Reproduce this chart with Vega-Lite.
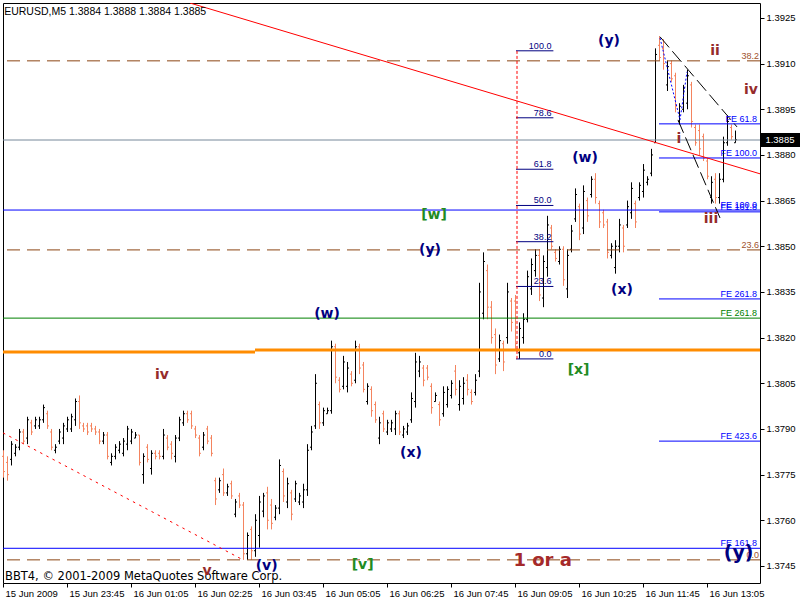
{
 "$schema": "https://vega.github.io/schema/vega-lite/v6.json",
 "width": 757, "height": 580,
 "autosize": {"type": "none"},
 "padding": {"left": 3, "top": 3, "right": 40, "bottom": 17},
 "background": "white",
 "config": {"view": {"stroke": "black", "strokeWidth": 1}},
 "datasets": {
  "bars": [
{"x":0,"o":1.3781,"h":1.3783,"l":1.3774,"c":1.3776},
{"x":1,"o":1.3779,"h":1.3781,"l":1.3773,"c":1.3775},
{"x":2,"o":1.3780,"h":1.3786,"l":1.3778,"c":1.3785},
{"x":3,"o":1.3782,"h":1.3785,"l":1.3781,"c":1.3784},
{"x":4,"o":1.3784,"h":1.3790,"l":1.3783,"c":1.3789},
{"x":5,"o":1.3789,"h":1.3790,"l":1.3785,"c":1.3786},
{"x":6,"o":1.3787,"h":1.3794,"l":1.3785,"c":1.3793},
{"x":7,"o":1.3792,"h":1.3793,"l":1.3788,"c":1.3789},
{"x":8,"o":1.3791,"h":1.3794,"l":1.3790,"c":1.3793},
{"x":9,"o":1.3791,"h":1.3794,"l":1.3790,"c":1.3793},
{"x":10,"o":1.3793,"h":1.3798,"l":1.3792,"c":1.3797},
{"x":11,"o":1.3795,"h":1.3796,"l":1.3790,"c":1.3791},
{"x":12,"o":1.3789,"h":1.3790,"l":1.3783,"c":1.3784},
{"x":13,"o":1.3783,"h":1.3785,"l":1.3782,"c":1.3784},
{"x":14,"o":1.3786,"h":1.3790,"l":1.3785,"c":1.3789},
{"x":15,"o":1.3787,"h":1.3792,"l":1.3785,"c":1.3791},
{"x":16,"o":1.3790,"h":1.3794,"l":1.3789,"c":1.3793},
{"x":17,"o":1.3790,"h":1.3795,"l":1.3789,"c":1.3794},
{"x":18,"o":1.3793,"h":1.3800,"l":1.3791,"c":1.3799},
{"x":19,"o":1.3799,"h":1.3801,"l":1.3790,"c":1.3792},
{"x":20,"o":1.3791,"h":1.3792,"l":1.3789,"c":1.3790},
{"x":21,"o":1.3791,"h":1.3792,"l":1.3788,"c":1.3789},
{"x":22,"o":1.3791,"h":1.3792,"l":1.3789,"c":1.3790},
{"x":23,"o":1.3790,"h":1.3791,"l":1.3788,"c":1.3789},
{"x":24,"o":1.3789,"h":1.3790,"l":1.3785,"c":1.3786},
{"x":25,"o":1.3786,"h":1.3789,"l":1.3785,"c":1.3788},
{"x":26,"o":1.3788,"h":1.3789,"l":1.3780,"c":1.3781},
{"x":27,"o":1.3779,"h":1.3782,"l":1.3778,"c":1.3781},
{"x":28,"o":1.3781,"h":1.3785,"l":1.3780,"c":1.3784},
{"x":29,"o":1.3783,"h":1.3786,"l":1.3782,"c":1.3785},
{"x":30,"o":1.3782,"h":1.3787,"l":1.3781,"c":1.3786},
{"x":31,"o":1.3785,"h":1.3791,"l":1.3783,"c":1.3790},
{"x":32,"o":1.3786,"h":1.3790,"l":1.3785,"c":1.3789},
{"x":33,"o":1.3787,"h":1.3789,"l":1.3787,"c":1.3788},
{"x":34,"o":1.3788,"h":1.3788,"l":1.3778,"c":1.3779},
{"x":35,"o":1.3775,"h":1.3782,"l":1.3772,"c":1.3781},
{"x":36,"o":1.3784,"h":1.3785,"l":1.3779,"c":1.3780},
{"x":37,"o":1.3777,"h":1.3783,"l":1.3775,"c":1.3782},
{"x":38,"o":1.3782,"h":1.3783,"l":1.3780,"c":1.3781},
{"x":39,"o":1.3782,"h":1.3783,"l":1.3780,"c":1.3781},
{"x":40,"o":1.3781,"h":1.3790,"l":1.3780,"c":1.3788},
{"x":41,"o":1.3787,"h":1.3788,"l":1.3783,"c":1.3784},
{"x":42,"o":1.3785,"h":1.3786,"l":1.3780,"c":1.3782},
{"x":43,"o":1.3781,"h":1.3788,"l":1.3779,"c":1.3787},
{"x":44,"o":1.3787,"h":1.3794,"l":1.3786,"c":1.3793},
{"x":45,"o":1.3792,"h":1.3796,"l":1.3791,"c":1.3795},
{"x":46,"o":1.3795,"h":1.3796,"l":1.3792,"c":1.3793},
{"x":47,"o":1.3795,"h":1.3796,"l":1.3790,"c":1.3791},
{"x":48,"o":1.3790,"h":1.3791,"l":1.3787,"c":1.3788},
{"x":49,"o":1.3787,"h":1.3788,"l":1.3781,"c":1.3782},
{"x":50,"o":1.3784,"h":1.3789,"l":1.3783,"c":1.3788},
{"x":51,"o":1.3790,"h":1.3791,"l":1.3785,"c":1.3786},
{"x":52,"o":1.3787,"h":1.3788,"l":1.3781,"c":1.3782},
{"x":53,"o":1.3773,"h":1.3774,"l":1.3765,"c":1.3767},
{"x":54,"o":1.3770,"h":1.3774,"l":1.3769,"c":1.3773},
{"x":55,"o":1.3775,"h":1.3777,"l":1.3768,"c":1.3769},
{"x":56,"o":1.3769,"h":1.3772,"l":1.3768,"c":1.3771},
{"x":57,"o":1.3772,"h":1.3773,"l":1.3767,"c":1.3768},
{"x":58,"o":1.3762,"h":1.3767,"l":1.3761,"c":1.3766},
{"x":59,"o":1.3768,"h":1.3769,"l":1.3764,"c":1.3765},
{"x":60,"o":1.3765,"h":1.3766,"l":1.3747,"c":1.3749},
{"x":61,"o":1.3749,"h":1.3756,"l":1.3747,"c":1.3755},
{"x":62,"o":1.3757,"h":1.3758,"l":1.3747,"c":1.3750},
{"x":63,"o":1.3750,"h":1.3762,"l":1.3748,"c":1.3760},
{"x":64,"o":1.3755,"h":1.3768,"l":1.3751,"c":1.3766},
{"x":65,"o":1.3763,"h":1.3769,"l":1.3761,"c":1.3768},
{"x":66,"o":1.3769,"h":1.3771,"l":1.3757,"c":1.3760},
{"x":67,"o":1.3765,"h":1.3767,"l":1.3757,"c":1.3759},
{"x":68,"o":1.3761,"h":1.3765,"l":1.3760,"c":1.3764},
{"x":69,"o":1.3764,"h":1.3780,"l":1.3762,"c":1.3778},
{"x":70,"o":1.3776,"h":1.3777,"l":1.3766,"c":1.3768},
{"x":71,"o":1.3766,"h":1.3774,"l":1.3764,"c":1.3772},
{"x":72,"o":1.3769,"h":1.3770,"l":1.3760,"c":1.3762},
{"x":73,"o":1.3767,"h":1.3773,"l":1.3766,"c":1.3772},
{"x":74,"o":1.3766,"h":1.3769,"l":1.3765,"c":1.3768},
{"x":75,"o":1.3766,"h":1.3772,"l":1.3764,"c":1.3770},
{"x":76,"o":1.3770,"h":1.3785,"l":1.3768,"c":1.3783},
{"x":77,"o":1.3784,"h":1.3791,"l":1.3783,"c":1.3789},
{"x":78,"o":1.3791,"h":1.3808,"l":1.3790,"c":1.3805},
{"x":79,"o":1.3798,"h":1.3799,"l":1.3790,"c":1.3792},
{"x":80,"o":1.3792,"h":1.3797,"l":1.3791,"c":1.3796},
{"x":81,"o":1.3795,"h":1.3797,"l":1.3795,"c":1.3796},
{"x":82,"o":1.3796,"h":1.3819,"l":1.3795,"c":1.3817},
{"x":83,"o":1.3817,"h":1.3818,"l":1.3805,"c":1.3807},
{"x":84,"o":1.3806,"h":1.3807,"l":1.3802,"c":1.3803},
{"x":85,"o":1.3804,"h":1.3814,"l":1.3803,"c":1.3812},
{"x":86,"o":1.3804,"h":1.3812,"l":1.3802,"c":1.3810},
{"x":87,"o":1.3808,"h":1.3809,"l":1.3804,"c":1.3805},
{"x":88,"o":1.3806,"h":1.3819,"l":1.3805,"c":1.3817},
{"x":89,"o":1.3817,"h":1.3818,"l":1.3808,"c":1.3810},
{"x":90,"o":1.3811,"h":1.3812,"l":1.3802,"c":1.3803},
{"x":91,"o":1.3799,"h":1.3805,"l":1.3798,"c":1.3804},
{"x":92,"o":1.3803,"h":1.3804,"l":1.3794,"c":1.3796},
{"x":93,"o":1.3798,"h":1.3799,"l":1.3792,"c":1.3793},
{"x":94,"o":1.3787,"h":1.3794,"l":1.3785,"c":1.3792},
{"x":95,"o":1.3795,"h":1.3796,"l":1.3789,"c":1.3790},
{"x":96,"o":1.3789,"h":1.3793,"l":1.3788,"c":1.3792},
{"x":97,"o":1.3790,"h":1.3793,"l":1.3789,"c":1.3792},
{"x":98,"o":1.3790,"h":1.3796,"l":1.3788,"c":1.3795},
{"x":99,"o":1.3795,"h":1.3796,"l":1.3788,"c":1.3789},
{"x":100,"o":1.3788,"h":1.3791,"l":1.3787,"c":1.3790},
{"x":101,"o":1.3789,"h":1.3792,"l":1.3788,"c":1.3791},
{"x":102,"o":1.3793,"h":1.3802,"l":1.3792,"c":1.3800},
{"x":103,"o":1.3799,"h":1.3815,"l":1.3797,"c":1.3812},
{"x":104,"o":1.3809,"h":1.3814,"l":1.3807,"c":1.3812},
{"x":105,"o":1.3810,"h":1.3811,"l":1.3804,"c":1.3806},
{"x":106,"o":1.3810,"h":1.3811,"l":1.3806,"c":1.3807},
{"x":107,"o":1.3804,"h":1.3805,"l":1.3795,"c":1.3797},
{"x":108,"o":1.3799,"h":1.3802,"l":1.3799,"c":1.3801},
{"x":109,"o":1.3798,"h":1.3799,"l":1.3791,"c":1.3793},
{"x":110,"o":1.3795,"h":1.3804,"l":1.3794,"c":1.3802},
{"x":111,"o":1.3798,"h":1.3804,"l":1.3797,"c":1.3803},
{"x":112,"o":1.3801,"h":1.3806,"l":1.3800,"c":1.3805},
{"x":113,"o":1.3809,"h":1.3811,"l":1.3801,"c":1.3803},
{"x":114,"o":1.3798,"h":1.3806,"l":1.3796,"c":1.3804},
{"x":115,"o":1.3800,"h":1.3807,"l":1.3798,"c":1.3805},
{"x":116,"o":1.3806,"h":1.3808,"l":1.3801,"c":1.3803},
{"x":117,"o":1.3802,"h":1.3803,"l":1.3798,"c":1.3799},
{"x":118,"o":1.3802,"h":1.3808,"l":1.3801,"c":1.3806},
{"x":119,"o":1.3809,"h":1.3838,"l":1.3807,"c":1.3835},
{"x":120,"o":1.3828,"h":1.3848,"l":1.3826,"c":1.3845},
{"x":121,"o":1.3842,"h":1.3844,"l":1.3826,"c":1.3830},
{"x":122,"o":1.3830,"h":1.3832,"l":1.3818,"c":1.3820},
{"x":123,"o":1.3821,"h":1.3823,"l":1.3808,"c":1.3811},
{"x":124,"o":1.3813,"h":1.3821,"l":1.3812,"c":1.3819},
{"x":125,"o":1.3818,"h":1.3819,"l":1.3809,"c":1.3812},
{"x":126,"o":1.3820,"h":1.3838,"l":1.3818,"c":1.3835},
{"x":127,"o":1.3832,"h":1.3833,"l":1.3822,"c":1.3825},
{"x":128,"o":1.3832,"h":1.3834,"l":1.3816,"c":1.3818},
{"x":129,"o":1.3815,"h":1.3825,"l":1.3813,"c":1.3823},
{"x":130,"o":1.3820,"h":1.3828,"l":1.3818,"c":1.3826},
{"x":131,"o":1.3826,"h":1.3842,"l":1.3825,"c":1.3840},
{"x":132,"o":1.3836,"h":1.3846,"l":1.3834,"c":1.3844},
{"x":133,"o":1.3842,"h":1.3849,"l":1.3840,"c":1.3847},
{"x":134,"o":1.3847,"h":1.3849,"l":1.3832,"c":1.3834},
{"x":135,"o":1.3833,"h":1.3847,"l":1.3830,"c":1.3845},
{"x":136,"o":1.3843,"h":1.3860,"l":1.3840,"c":1.3857},
{"x":137,"o":1.3856,"h":1.3857,"l":1.3849,"c":1.3850},
{"x":138,"o":1.3848,"h":1.3849,"l":1.3845,"c":1.3846},
{"x":139,"o":1.3845,"h":1.3850,"l":1.3844,"c":1.3849},
{"x":140,"o":1.3849,"h":1.3850,"l":1.3837,"c":1.3839},
{"x":141,"o":1.3836,"h":1.3849,"l":1.3833,"c":1.3847},
{"x":142,"o":1.3849,"h":1.3857,"l":1.3848,"c":1.3855},
{"x":143,"o":1.3859,"h":1.3869,"l":1.3858,"c":1.3867},
{"x":144,"o":1.3863,"h":1.3864,"l":1.3852,"c":1.3854},
{"x":145,"o":1.3856,"h":1.3870,"l":1.3854,"c":1.3868},
{"x":146,"o":1.3865,"h":1.3866,"l":1.3858,"c":1.3860},
{"x":147,"o":1.3867,"h":1.3873,"l":1.3866,"c":1.3872},
{"x":148,"o":1.3872,"h":1.3874,"l":1.3864,"c":1.3866},
{"x":149,"o":1.3864,"h":1.3865,"l":1.3856,"c":1.3858},
{"x":150,"o":1.3861,"h":1.3862,"l":1.3856,"c":1.3857},
{"x":151,"o":1.3858,"h":1.3859,"l":1.3846,"c":1.3848},
{"x":152,"o":1.3847,"h":1.3851,"l":1.3846,"c":1.3850},
{"x":153,"o":1.3843,"h":1.3852,"l":1.3841,"c":1.3850},
{"x":154,"o":1.3850,"h":1.3859,"l":1.3848,"c":1.3857},
{"x":155,"o":1.3856,"h":1.3857,"l":1.3848,"c":1.3850},
{"x":156,"o":1.3857,"h":1.3865,"l":1.3856,"c":1.3863},
{"x":157,"o":1.3861,"h":1.3871,"l":1.3859,"c":1.3869},
{"x":158,"o":1.3864,"h":1.3865,"l":1.3856,"c":1.3858},
{"x":159,"o":1.3866,"h":1.3871,"l":1.3865,"c":1.3870},
{"x":160,"o":1.3868,"h":1.3877,"l":1.3866,"c":1.3875},
{"x":161,"o":1.3871,"h":1.3873,"l":1.3870,"c":1.3872},
{"x":162,"o":1.3874,"h":1.3882,"l":1.3873,"c":1.3880},
{"x":163,"o":1.3884,"h":1.3915,"l":1.3884,"c":1.3913},
{"x":164,"o":1.3916,"h":1.3919,"l":1.3911,"c":1.3912},
{"x":165,"o":1.3915,"h":1.3918,"l":1.3908,"c":1.3910},
{"x":166,"o":1.3903,"h":1.3911,"l":1.3901,"c":1.3909},
{"x":167,"o":1.3910,"h":1.3911,"l":1.3904,"c":1.3905},
{"x":168,"o":1.3906,"h":1.3907,"l":1.3894,"c":1.3896},
{"x":169,"o":1.3891,"h":1.3897,"l":1.3890,"c":1.3896},
{"x":170,"o":1.3895,"h":1.3903,"l":1.3894,"c":1.3902},
{"x":171,"o":1.3897,"h":1.3908,"l":1.3895,"c":1.3906},
{"x":172,"o":1.3903,"h":1.3904,"l":1.3889,"c":1.3891},
{"x":173,"o":1.3889,"h":1.3890,"l":1.3883,"c":1.3884},
{"x":174,"o":1.3888,"h":1.3890,"l":1.3880,"c":1.3882},
{"x":175,"o":1.3886,"h":1.3887,"l":1.3878,"c":1.3879},
{"x":176,"o":1.3878,"h":1.3879,"l":1.3872,"c":1.3873},
{"x":177,"o":1.3866,"h":1.3873,"l":1.3864,"c":1.3871},
{"x":178,"o":1.3872,"h":1.3874,"l":1.3864,"c":1.3866},
{"x":179,"o":1.3866,"h":1.3874,"l":1.3864,"c":1.3872},
{"x":180,"o":1.3872,"h":1.3886,"l":1.3871,"c":1.3884},
{"x":181,"o":1.3884,"h":1.3893,"l":1.3883,"c":1.3891},
{"x":182,"o":1.3889,"h":1.3890,"l":1.3885,"c":1.3886},
{"x":183,"o":1.3884,"h":1.3888,"l":1.3884,"c":1.3885}
  ],
  "grayLine": [{"p": 1.38849}],
  "brownLv": [{"p": 1.39109, "t": "38.2"}, {"p": 1.38488, "t": "23.6"}, {"p": 1.3747, "t": "0.0"}],
  "blueFull": [{"p": 1.38619, "t": "FE 100.0"}, {"p": 1.37508, "t": "FE 161.8"}],
  "greenFull": [{"p": 1.38264, "t": "FE 261.8"}],
  "blueShort": [
   {"x": 164, "x2": 189.25, "p": 1.38902, "t": "FE 61.8"},
   {"x": 164, "x2": 189.25, "p": 1.3879, "t": "FE 100.0"},
   {"x": 164, "x2": 189.25, "p": 1.38613, "t": "FE 161.8"},
   {"x": 164, "x2": 189.25, "p": 1.38327, "t": "FE 261.8"},
   {"x": 164, "x2": 189.25, "p": 1.3786, "t": "FE 423.6"}
  ],
  "orange": [{"x": 0, "x2": 63, "p": 1.38153}, {"x": 63, "x2": 189.25, "p": 1.38159}],
  "fibo": [
   {"x": 128.25, "x2": 137.6, "p": 1.39142, "t": "100.0"},
   {"x": 128.25, "x2": 137.6, "p": 1.38922, "t": "78.6"},
   {"x": 128.25, "x2": 137.6, "p": 1.38753, "t": "61.8"},
   {"x": 128.25, "x2": 137.6, "p": 1.38634, "t": "50.0"},
   {"x": 128.25, "x2": 137.6, "p": 1.38515, "t": "38.2"},
   {"x": 128.25, "x2": 137.6, "p": 1.38368, "t": "23.6"},
   {"x": 128.25, "x2": 137.6, "p": 1.3813, "t": "0.0"}
  ],
  "fiboVert": [{"x": 128.5, "p": 1.3813, "p2": 1.39142}],
  "redTrend": [{"x": 46.75, "p": 1.39299}, {"x": 189.25, "p": 1.38738}],
  "redDot": [{"x": 0, "p": 1.37887}, {"x": 60, "p": 1.3747}],
  "wedge": [
   {"id": "A", "x": 164.25, "p": 1.39188}, {"id": "A", "x": 183.5, "p": 1.38892},
   {"id": "B", "x": 168.75, "p": 1.38915}, {"id": "B", "x": 179.25, "p": 1.38593}
  ],
  "zigzag": [{"x": 164.25, "p": 1.39184}, {"x": 169.25, "p": 1.38915}, {"x": 171, "p": 1.39073}],
  "navyLbl": [
   {"x": 151.5, "p": 1.39174, "t": "(y)"},
   {"x": 145.5, "p": 1.3879, "t": "(w)"},
   {"x": 106.75, "p": 1.38488, "t": "(y)"},
   {"x": 154.75, "p": 1.38357, "t": "(x)"},
   {"x": 81, "p": 1.38278, "t": "(w)"},
   {"x": 102, "p": 1.37821, "t": "(x)"},
   {"x": 65.9, "p": 1.3745, "t": "(v)"}
  ],
  "redLbl": [
   {"x": 178, "p": 1.39142, "t": "ii"},
   {"x": 187, "p": 1.39013, "t": "iv"},
   {"x": 169, "p": 1.38853, "t": "i"},
   {"x": 177, "p": 1.38591, "t": "iii"},
   {"x": 39.75, "p": 1.38077, "t": "iv"},
   {"x": 51, "p": 1.37434, "t": "v"}
  ],
  "greenLbl": [
   {"x": 107.75, "p": 1.38603, "t": "[w]"},
   {"x": 143.9, "p": 1.38092, "t": "[x]"},
   {"x": 89.9, "p": 1.37453, "t": "[v]"}
  ],
  "bigRed": [{"x": 134.9, "p": 1.37466, "t": "1 or a"}],
  "bigNavy": [{"x": 183.9, "p": 1.37491, "t": "(y)"}],
  "copy": [{"x": 0.5, "p": 1.37414, "t": "BBT4, © 2001-2009 MetaQuotes Software Corp."}],
  "title": [{"x": 0.3, "p": 1.3927, "t": "EURUSD,M5  1.3884 1.3888 1.3884 1.3885"}],
  "tagBox": [{"x": 189.25, "x2": 199.25, "p": 1.38872, "p2": 1.38826}],
  "tagText": [{"x": 190.6, "p": 1.3885, "t": "1.3885"}]
 },
 "layer": [
  {
   "data": {"name": "bars"},
   "layer": [
    {
     "mark": {"type": "rule", "strokeWidth": 1, "xOffset": 0.5},
     "encoding": {
      "x": {"field": "x", "type": "quantitative", "scale": {"domain": [0, 189.25], "nice": false, "zero": false},
            "axis": {"orient": "bottom", "values": [0,16,32,48,64,80,96,112,128,144,160,176],
                     "labelExpr": "['15 Jun 2009','15 Jun 23:45','16 Jun 01:05','16 Jun 02:25','16 Jun 03:45','16 Jun 05:05','16 Jun 06:25','16 Jun 07:45','16 Jun 09:05','16 Jun 10:25','16 Jun 11:45','16 Jun 13:05'][round(datum.value/16)]",
                     "title": null, "grid": false, "domain": false, "tickColor": "black", "tickSize": 4,
                     "labelAlign": "left", "labelBaseline": "top", "labelPadding": 1, "labelOffset": 2,
                     "labelFont": "Liberation Sans", "labelFontSize": 9.5, "labelColor": "black",
                     "labelOverlap": false, "labelFlush": false, "labelBound": false}},
      "y": {"field": "l", "type": "quantitative", "scale": {"domain": [1.37394, 1.39299], "nice": false, "zero": false},
            "axis": {"orient": "right", "values": [1.3745,1.376,1.3775,1.379,1.3805,1.382,1.3835,1.385,1.3865,1.388,1.3895,1.391,1.3925],
                     "format": ".4f", "title": null, "grid": false, "domain": false, "tickColor": "black", "tickSize": 4,
                     "labelPadding": 2, "labelFont": "Liberation Sans", "labelFontSize": 9.5, "labelColor": "black",
                     "labelBaseline": "middle", "labelOverlap": false, "labelFlush": false, "labelBound": false}},
      "y2": {"field": "h"},
      "color": {"condition": {"test": "datum.c >= datum.o", "value": "#000000"}, "value": "#F4845F"}
     }
    },
    {
     "mark": {"type": "rule", "strokeWidth": 1, "xOffset": -1, "x2Offset": 0.5},
     "encoding": {
      "x": {"field": "x", "type": "quantitative", "scale": {"domain": [0, 189.25], "nice": false, "zero": false}, "axis": {"title": null}},
      "x2": {"field": "x"},
      "y": {"field": "o", "type": "quantitative", "scale": {"domain": [1.37394, 1.39299], "nice": false, "zero": false}, "axis": {"title": null, "orient": "right"}},
      "color": {"condition": {"test": "datum.c >= datum.o", "value": "#000000"}, "value": "#F4845F"}
     }
    },
    {
     "mark": {"type": "rule", "strokeWidth": 1, "xOffset": 0.5, "x2Offset": 2},
     "encoding": {
      "x": {"field": "x", "type": "quantitative", "scale": {"domain": [0, 189.25], "nice": false, "zero": false}, "axis": {"title": null}},
      "x2": {"field": "x"},
      "y": {"field": "c", "type": "quantitative", "scale": {"domain": [1.37394, 1.39299], "nice": false, "zero": false}, "axis": {"title": null, "orient": "right"}},
      "color": {"condition": {"test": "datum.c >= datum.o", "value": "#000000"}, "value": "#F4845F"}
     }
    }
   ]
  },
  {
   "data": {"name": "grayLine"},
   "mark": {"type": "rule", "color": "#778899", "strokeWidth": 1},
   "encoding": {"y": {"field": "p", "type": "quantitative", "scale": {"domain": [1.37394, 1.39299], "nice": false, "zero": false}, "axis": {"title": null, "orient": "right"}}}
  },
  {
   "data": {"name": "brownLv"},
   "mark": {"type": "rule", "color": "#8B4513", "strokeWidth": 1, "strokeDash": [13, 7]},
   "encoding": {"y": {"field": "p", "type": "quantitative", "scale": {"domain": [1.37394, 1.39299], "nice": false, "zero": false}, "axis": {"title": null, "orient": "right"}}}
  },
  {
   "data": {"name": "blueFull"},
   "mark": {"type": "rule", "color": "#0000FF", "strokeWidth": 1},
   "encoding": {"y": {"field": "p", "type": "quantitative", "scale": {"domain": [1.37394, 1.39299], "nice": false, "zero": false}, "axis": {"title": null, "orient": "right"}}}
  },
  {
   "data": {"name": "greenFull"},
   "mark": {"type": "rule", "color": "#008000", "strokeWidth": 1},
   "encoding": {"y": {"field": "p", "type": "quantitative", "scale": {"domain": [1.37394, 1.39299], "nice": false, "zero": false}, "axis": {"title": null, "orient": "right"}}}
  },
  {
   "data": {"name": "blueShort"},
   "mark": {"type": "rule", "color": "#0000FF", "strokeWidth": 1},
   "encoding": {
    "x": {"field": "x", "type": "quantitative", "scale": {"domain": [0, 189.25], "nice": false, "zero": false}, "axis": {"title": null}},
    "x2": {"field": "x2"},
    "y": {"field": "p", "type": "quantitative", "scale": {"domain": [1.37394, 1.39299], "nice": false, "zero": false}, "axis": {"title": null, "orient": "right"}}
   }
  },
  {
   "data": {"name": "orange"},
   "mark": {"type": "rule", "color": "#FF8C00", "strokeWidth": 3},
   "encoding": {
    "x": {"field": "x", "type": "quantitative", "scale": {"domain": [0, 189.25], "nice": false, "zero": false}, "axis": {"title": null}},
    "x2": {"field": "x2"},
    "y": {"field": "p", "type": "quantitative", "scale": {"domain": [1.37394, 1.39299], "nice": false, "zero": false}, "axis": {"title": null, "orient": "right"}}
   }
  },
  {
   "data": {"name": "fibo"},
   "mark": {"type": "rule", "color": "#000080", "strokeWidth": 1},
   "encoding": {
    "x": {"field": "x", "type": "quantitative", "scale": {"domain": [0, 189.25], "nice": false, "zero": false}, "axis": {"title": null}},
    "x2": {"field": "x2"},
    "y": {"field": "p", "type": "quantitative", "scale": {"domain": [1.37394, 1.39299], "nice": false, "zero": false}, "axis": {"title": null, "orient": "right"}}
   }
  },
  {
   "data": {"name": "fiboVert"},
   "mark": {"type": "rule", "color": "#FF0000", "strokeWidth": 1, "strokeDash": [3, 2]},
   "encoding": {
    "x": {"field": "x", "type": "quantitative", "scale": {"domain": [0, 189.25], "nice": false, "zero": false}, "axis": {"title": null}},
    "y": {"field": "p", "type": "quantitative", "scale": {"domain": [1.37394, 1.39299], "nice": false, "zero": false}, "axis": {"title": null, "orient": "right"}},
    "y2": {"field": "p2"}
   }
  },
  {
   "data": {"name": "redTrend"},
   "mark": {"type": "line", "color": "#FF0000", "strokeWidth": 1, "clip": true},
   "encoding": {
    "x": {"field": "x", "type": "quantitative", "scale": {"domain": [0, 189.25], "nice": false, "zero": false}, "axis": {"title": null}},
    "y": {"field": "p", "type": "quantitative", "scale": {"domain": [1.37394, 1.39299], "nice": false, "zero": false}, "axis": {"title": null, "orient": "right"}}
   }
  },
  {
   "data": {"name": "redDot"},
   "mark": {"type": "line", "color": "#FF0000", "strokeWidth": 1, "strokeDash": [2.5, 4.5], "clip": true},
   "encoding": {
    "x": {"field": "x", "type": "quantitative", "scale": {"domain": [0, 189.25], "nice": false, "zero": false}, "axis": {"title": null}},
    "y": {"field": "p", "type": "quantitative", "scale": {"domain": [1.37394, 1.39299], "nice": false, "zero": false}, "axis": {"title": null, "orient": "right"}}
   }
  },
  {
   "data": {"name": "wedge"},
   "mark": {"type": "line", "color": "#000000", "strokeWidth": 1, "strokeDash": [14, 5]},
   "encoding": {
    "x": {"field": "x", "type": "quantitative", "scale": {"domain": [0, 189.25], "nice": false, "zero": false}, "axis": {"title": null}},
    "y": {"field": "p", "type": "quantitative", "scale": {"domain": [1.37394, 1.39299], "nice": false, "zero": false}, "axis": {"title": null, "orient": "right"}},
    "detail": {"field": "id", "type": "nominal"}
   }
  },
  {
   "data": {"name": "zigzag"},
   "mark": {"type": "line", "color": "#0000FF", "strokeWidth": 1, "strokeDash": [2, 2]},
   "encoding": {
    "x": {"field": "x", "type": "quantitative", "scale": {"domain": [0, 189.25], "nice": false, "zero": false}, "axis": {"title": null}},
    "y": {"field": "p", "type": "quantitative", "scale": {"domain": [1.37394, 1.39299], "nice": false, "zero": false}, "axis": {"title": null, "orient": "right"}}
   }
  },
  {
   "data": {"name": "fibo"},
   "mark": {"type": "text", "color": "#000080", "font": "Liberation Sans", "fontSize": 9, "align": "right", "baseline": "alphabetic", "dx": -2, "dy": -2},
   "encoding": {
    "x": {"field": "x2", "type": "quantitative", "scale": {"domain": [0, 189.25], "nice": false, "zero": false}, "axis": {"title": null}},
    "y": {"field": "p", "type": "quantitative", "scale": {"domain": [1.37394, 1.39299], "nice": false, "zero": false}, "axis": {"title": null, "orient": "right"}},
    "text": {"field": "t"}
   }
  },
  {
   "data": {"name": "blueShort"},
   "mark": {"type": "text", "color": "#0000FF", "font": "Liberation Sans", "fontSize": 9, "align": "right", "baseline": "alphabetic", "dx": -3, "dy": -2},
   "encoding": {
    "x": {"field": "x2", "type": "quantitative", "scale": {"domain": [0, 189.25], "nice": false, "zero": false}, "axis": {"title": null}},
    "y": {"field": "p", "type": "quantitative", "scale": {"domain": [1.37394, 1.39299], "nice": false, "zero": false}, "axis": {"title": null, "orient": "right"}},
    "text": {"field": "t"}
   }
  },
  {
   "data": {"name": "blueFull"},
   "mark": {"type": "text", "color": "#0000FF", "font": "Liberation Sans", "fontSize": 9, "align": "right", "baseline": "alphabetic", "dx": -3, "dy": -2},
   "encoding": {
    "x": {"datum": 189.25, "type": "quantitative", "scale": {"domain": [0, 189.25], "nice": false, "zero": false}, "axis": {"title": null}},
    "y": {"field": "p", "type": "quantitative", "scale": {"domain": [1.37394, 1.39299], "nice": false, "zero": false}, "axis": {"title": null, "orient": "right"}},
    "text": {"field": "t"}
   }
  },
  {
   "data": {"name": "greenFull"},
   "mark": {"type": "text", "color": "#008000", "font": "Liberation Sans", "fontSize": 9, "align": "right", "baseline": "alphabetic", "dx": -3, "dy": -2},
   "encoding": {
    "x": {"datum": 189.25, "type": "quantitative", "scale": {"domain": [0, 189.25], "nice": false, "zero": false}, "axis": {"title": null}},
    "y": {"field": "p", "type": "quantitative", "scale": {"domain": [1.37394, 1.39299], "nice": false, "zero": false}, "axis": {"title": null, "orient": "right"}},
    "text": {"field": "t"}
   }
  },
  {
   "data": {"name": "brownLv"},
   "mark": {"type": "text", "color": "#A0522D", "font": "Liberation Sans", "fontSize": 9, "align": "right", "baseline": "alphabetic", "dx": -1, "dy": -2},
   "encoding": {
    "x": {"datum": 189.25, "type": "quantitative", "scale": {"domain": [0, 189.25], "nice": false, "zero": false}, "axis": {"title": null}},
    "y": {"field": "p", "type": "quantitative", "scale": {"domain": [1.37394, 1.39299], "nice": false, "zero": false}, "axis": {"title": null, "orient": "right"}},
    "text": {"field": "t"}
   }
  },
  {
   "data": {"name": "copy"},
   "mark": {"type": "text", "color": "#000000", "font": "DejaVu Sans", "fontSize": 11.5, "align": "left", "baseline": "middle"},
   "encoding": {
    "x": {"field": "x", "type": "quantitative", "scale": {"domain": [0, 189.25], "nice": false, "zero": false}, "axis": {"title": null}},
    "y": {"field": "p", "type": "quantitative", "scale": {"domain": [1.37394, 1.39299], "nice": false, "zero": false}, "axis": {"title": null, "orient": "right"}},
    "text": {"field": "t"}
   }
  },
  {
   "data": {"name": "navyLbl"},
   "mark": {"type": "text", "color": "#000080", "font": "DejaVu Sans", "fontWeight": "bold", "fontSize": 14, "align": "center", "baseline": "middle"},
   "encoding": {
    "x": {"field": "x", "type": "quantitative", "scale": {"domain": [0, 189.25], "nice": false, "zero": false}, "axis": {"title": null}},
    "y": {"field": "p", "type": "quantitative", "scale": {"domain": [1.37394, 1.39299], "nice": false, "zero": false}, "axis": {"title": null, "orient": "right"}},
    "text": {"field": "t"}
   }
  },
  {
   "data": {"name": "redLbl"},
   "mark": {"type": "text", "color": "#952B2B", "font": "DejaVu Sans", "fontWeight": "bold", "fontSize": 14, "align": "center", "baseline": "middle"},
   "encoding": {
    "x": {"field": "x", "type": "quantitative", "scale": {"domain": [0, 189.25], "nice": false, "zero": false}, "axis": {"title": null}},
    "y": {"field": "p", "type": "quantitative", "scale": {"domain": [1.37394, 1.39299], "nice": false, "zero": false}, "axis": {"title": null, "orient": "right"}},
    "text": {"field": "t"}
   }
  },
  {
   "data": {"name": "greenLbl"},
   "mark": {"type": "text", "color": "#228B22", "font": "DejaVu Sans", "fontWeight": "bold", "fontSize": 14, "align": "center", "baseline": "middle"},
   "encoding": {
    "x": {"field": "x", "type": "quantitative", "scale": {"domain": [0, 189.25], "nice": false, "zero": false}, "axis": {"title": null}},
    "y": {"field": "p", "type": "quantitative", "scale": {"domain": [1.37394, 1.39299], "nice": false, "zero": false}, "axis": {"title": null, "orient": "right"}},
    "text": {"field": "t"}
   }
  },
  {
   "data": {"name": "bigRed"},
   "mark": {"type": "text", "color": "#A52A2A", "font": "DejaVu Sans", "fontWeight": "bold", "fontSize": 18, "align": "center", "baseline": "middle"},
   "encoding": {
    "x": {"field": "x", "type": "quantitative", "scale": {"domain": [0, 189.25], "nice": false, "zero": false}, "axis": {"title": null}},
    "y": {"field": "p", "type": "quantitative", "scale": {"domain": [1.37394, 1.39299], "nice": false, "zero": false}, "axis": {"title": null, "orient": "right"}},
    "text": {"field": "t"}
   }
  },
  {
   "data": {"name": "bigNavy"},
   "mark": {"type": "text", "color": "#000080", "font": "DejaVu Sans", "fontWeight": "bold", "fontSize": 19, "align": "center", "baseline": "middle"},
   "encoding": {
    "x": {"field": "x", "type": "quantitative", "scale": {"domain": [0, 189.25], "nice": false, "zero": false}, "axis": {"title": null}},
    "y": {"field": "p", "type": "quantitative", "scale": {"domain": [1.37394, 1.39299], "nice": false, "zero": false}, "axis": {"title": null, "orient": "right"}},
    "text": {"field": "t"}
   }
  },
  {
   "data": {"name": "title"},
   "mark": {"type": "text", "color": "#000000", "font": "Liberation Sans", "fontSize": 10.5, "align": "left", "baseline": "middle"},
   "encoding": {
    "x": {"field": "x", "type": "quantitative", "scale": {"domain": [0, 189.25], "nice": false, "zero": false}, "axis": {"title": null}},
    "y": {"field": "p", "type": "quantitative", "scale": {"domain": [1.37394, 1.39299], "nice": false, "zero": false}, "axis": {"title": null, "orient": "right"}},
    "text": {"field": "t"}
   }
  },
  {
   "data": {"name": "tagBox"},
   "mark": {"type": "rect", "color": "#000000"},
   "encoding": {
    "x": {"field": "x", "type": "quantitative", "scale": {"domain": [0, 189.25], "nice": false, "zero": false}, "axis": {"title": null}},
    "x2": {"field": "x2"},
    "y": {"field": "p", "type": "quantitative", "scale": {"domain": [1.37394, 1.39299], "nice": false, "zero": false}, "axis": {"title": null, "orient": "right"}},
    "y2": {"field": "p2"}
   }
  },
  {
   "data": {"name": "tagText"},
   "mark": {"type": "text", "color": "#FFFFFF", "font": "Liberation Sans", "fontSize": 9.5, "align": "left", "baseline": "middle"},
   "encoding": {
    "x": {"field": "x", "type": "quantitative", "scale": {"domain": [0, 189.25], "nice": false, "zero": false}, "axis": {"title": null}},
    "y": {"field": "p", "type": "quantitative", "scale": {"domain": [1.37394, 1.39299], "nice": false, "zero": false}, "axis": {"title": null, "orient": "right"}},
    "text": {"field": "t"}
   }
  }
 ]
}
